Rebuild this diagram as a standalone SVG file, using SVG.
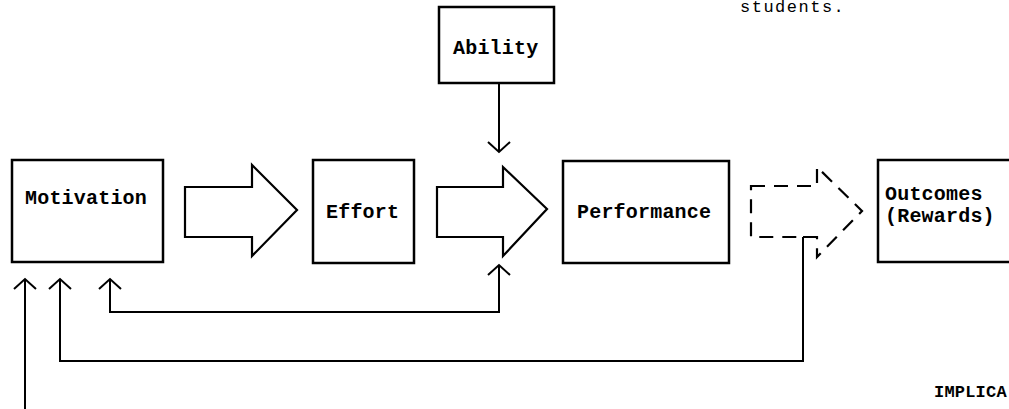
<svg xmlns="http://www.w3.org/2000/svg" width="1009" height="409" viewBox="0 0 1009 409">
<style>
.box{fill:#fff;stroke:#000;stroke-width:2.5}
.blk{fill:#fff;stroke:#000;stroke-width:2.2;stroke-linejoin:miter}
.dash{fill:none;stroke:#000;stroke-width:2.2;stroke-dasharray:14 9}
.con{fill:none;stroke:#000;stroke-width:2}
.lbl{font-family:"Liberation Mono",monospace;font-size:20px;font-weight:bold;letter-spacing:0.2px;fill:#000}
.txt{font-family:"Liberation Mono",monospace;font-size:17px;letter-spacing:1.5px;fill:#000}
</style>
<defs>
<marker id="ah" viewBox="-12 -12 24 24" markerWidth="24" markerHeight="24" refX="0" refY="0" orient="auto-start-reverse" markerUnits="userSpaceOnUse">
<path d="M-10,-11 L0,0 L-10,11" fill="none" stroke="#000" stroke-width="2"/>
</marker>
</defs>
<rect width="1009" height="409" fill="#fff"/>
<text class="txt" x="740" y="12">students.</text>
<text class="txt" x="934" y="397" font-weight="bold" style="letter-spacing:0.2px">IMPLICA</text>

<g id="motivation">
<rect class="box" x="12" y="160" width="151" height="102"/>
<text class="lbl" x="25" y="204">Motivation</text>
</g>
<g id="effort">
<rect class="box" x="313" y="160" width="101" height="103"/>
<text class="lbl" x="326" y="218">Effort</text>
</g>
<g id="ability">
<rect class="box" x="439" y="7" width="115" height="76"/>
<text class="lbl" x="453" y="54">Ability</text>
</g>
<g id="performance">
<rect class="box" x="563" y="161" width="166" height="102"/>
<text class="lbl" x="577" y="218">Performance</text>
</g>
<g id="outcomes">
<rect class="box" x="878" y="160" width="140" height="102"/>
<text class="lbl" x="885" y="200">Outcomes</text>
<text class="lbl" x="885" y="222">(Rewards)</text>
</g>

<g id="connectors">
<polygon class="blk" points="185,187 252,187 252,165 297,210 252,256 252,237 185,237"/>
<polygon class="blk" points="437,187 503,187 503,167 547,209 503,256 503,237 437,237"/>
<polygon class="dash" points="751,186 817,186 817,167 862,211 817,257 817,237 751,237"/>
<path class="con" d="M803,237 H817"/>
<path class="con" d="M499,83 V152" marker-end="url(#ah)"/>
<path class="con" d="M499,265 V312 H110 V279" marker-start="url(#ah)" marker-end="url(#ah)"/>
<path class="con" d="M803,237 V361 H60 V279" marker-end="url(#ah)"/>
<path class="con" d="M25,409 V279" marker-end="url(#ah)"/>
</g>
</svg>
